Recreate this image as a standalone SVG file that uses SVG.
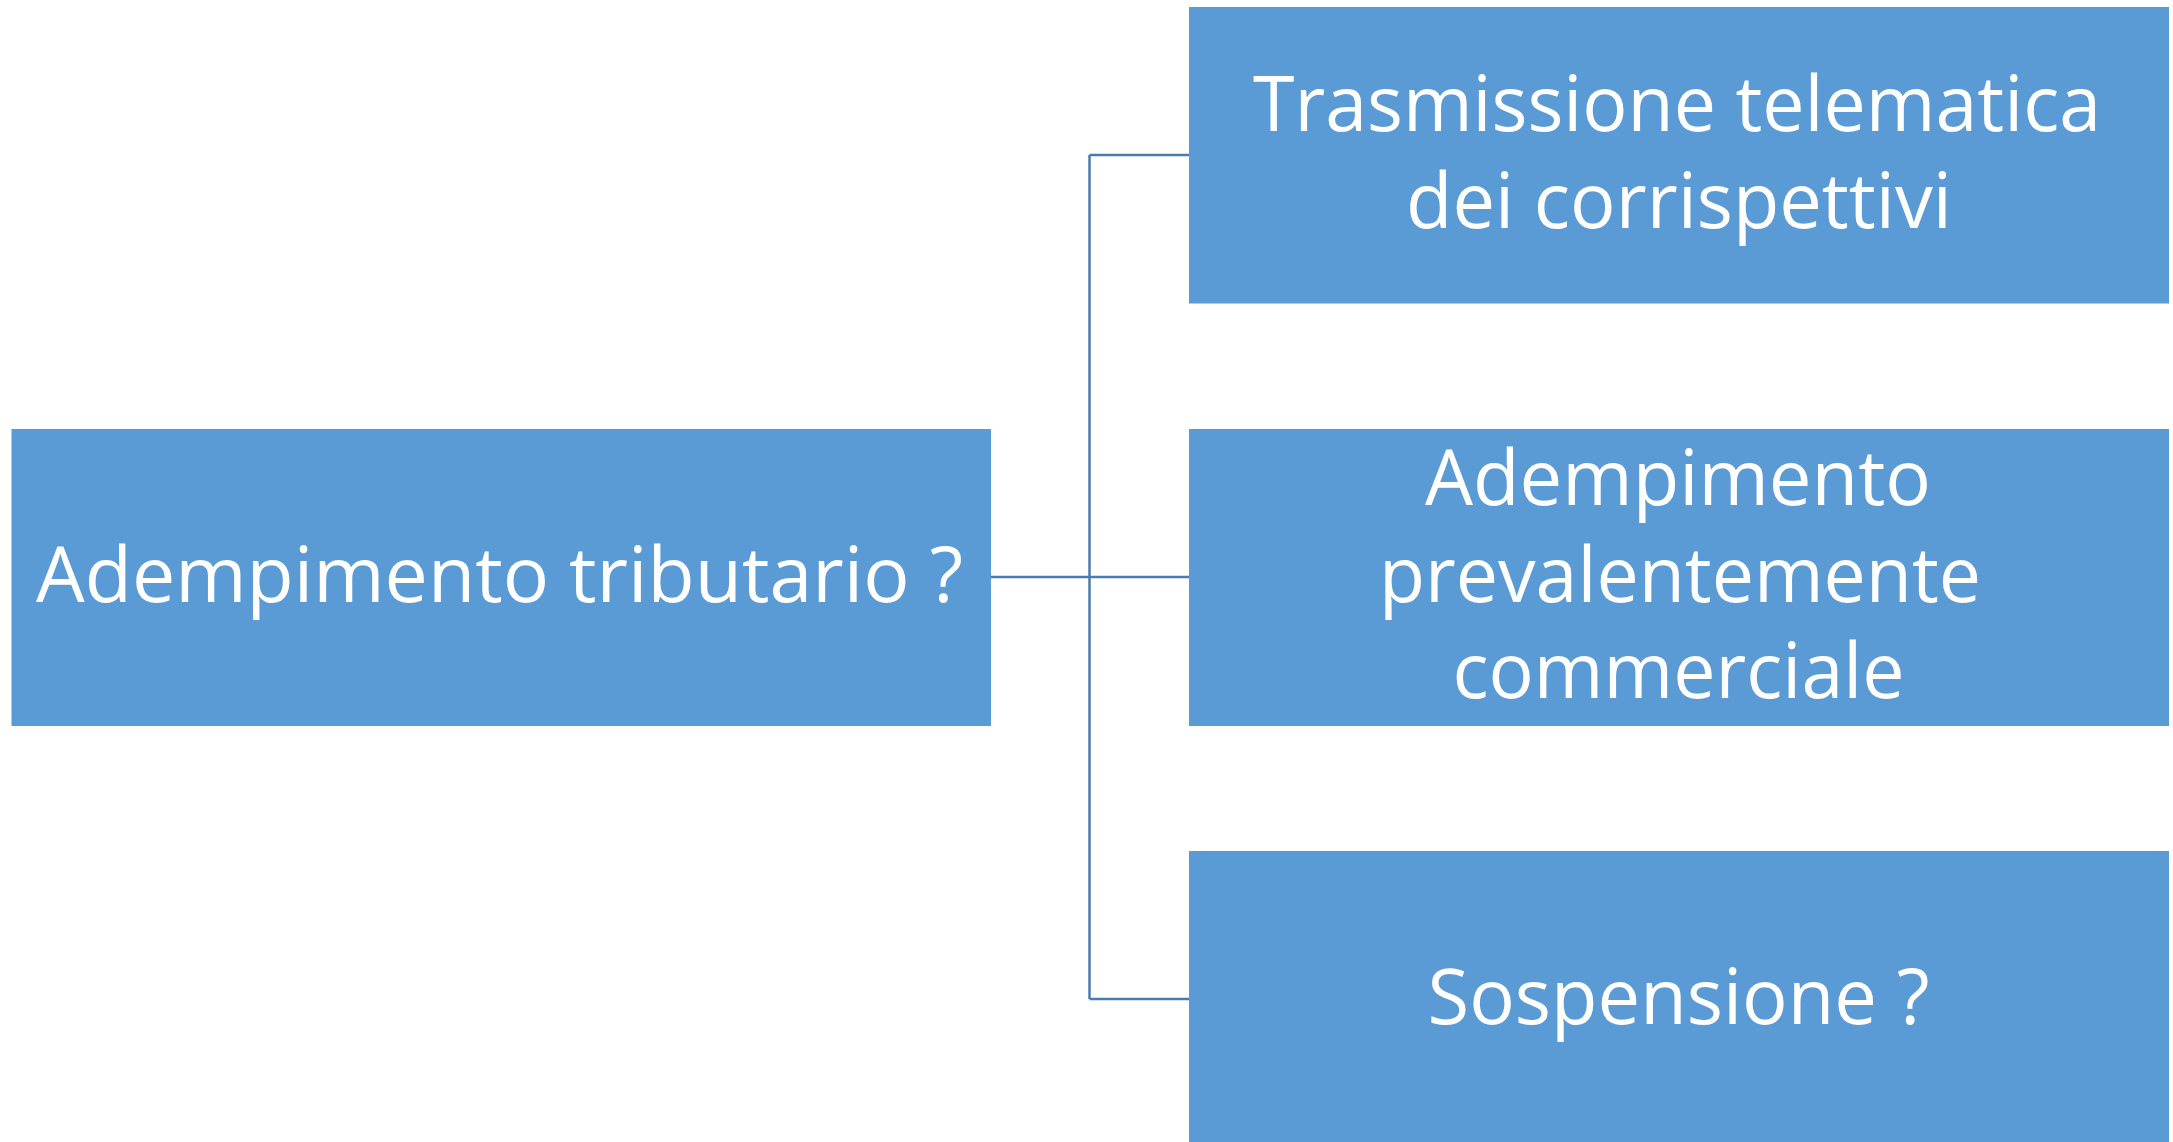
<svg xmlns="http://www.w3.org/2000/svg" width="2173" height="1142" viewBox="0 0 2173 1142">
<style>
.box{fill:#5B9BD5;}
.lbl{fill:#FFFFFF;font-family:"Open Sans","Noto Sans","DejaVu Sans",sans-serif;font-size:77px;text-anchor:middle;}
.conn{fill:none;stroke:#4A7CB1;stroke-width:2.5;}
</style>
<rect width="2173" height="1142" fill="#FFFFFF"/>
<g id="connectors">
<path class="conn" d="M991,577 H1189"/>
<path class="conn" d="M1089.5,155 V999"/>
<path class="conn" d="M1089.5,155 H1189"/>
<path class="conn" d="M1089.5,999 H1189"/>
</g>
<g id="node-root">
<rect class="box" x="11.5" y="429" width="979.5" height="297"/>
<text class="lbl" x="499.5" y="601.5" textLength="927" lengthAdjust="spacingAndGlyphs">Adempimento tributario ?</text>
</g>
<g id="node-trasmissione">
<rect class="box" x="1189" y="7" width="980" height="296.5"/>
<text class="lbl" x="1677" y="131" textLength="848" lengthAdjust="spacingAndGlyphs">Trasmissione telematica</text>
<text class="lbl" x="1679" y="228" textLength="546" lengthAdjust="spacingAndGlyphs">dei corrispettivi</text>
</g>
<g id="node-adempimento">
<rect class="box" x="1189" y="429" width="980" height="297"/>
<text class="lbl" x="1678" y="505.3" textLength="506" lengthAdjust="spacingAndGlyphs">Adempimento</text>
<text class="lbl" x="1680" y="601.7" textLength="602" lengthAdjust="spacingAndGlyphs">prevalentemente</text>
<text class="lbl" x="1678.5" y="698.3" textLength="452" lengthAdjust="spacingAndGlyphs">commerciale</text>
</g>
<g id="node-sospensione">
<rect class="box" x="1189" y="851" width="980" height="291"/>
<text class="lbl" x="1678.5" y="1024" textLength="502" lengthAdjust="spacingAndGlyphs">Sospensione ?</text>
</g>
</svg>
